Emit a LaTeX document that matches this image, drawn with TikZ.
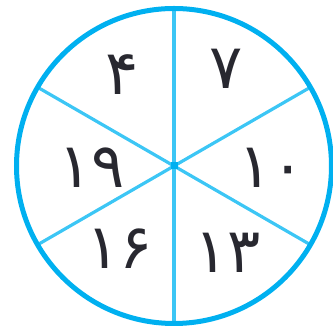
\documentclass[tikz,border=0pt]{standalone}
\usepackage{fontspec}
\usetikzlibrary{calc}
\newfontfamily\arabicfont[Script=Arabic]{DejaVu Sans}
\definecolor{rim}{RGB}{0,176,240}
\definecolor{spoke}{RGB}{60,198,245}
\definecolor{ink}{RGB}{40,40,48}
\begin{document}
\begin{tikzpicture}[x=1pt,y=1pt,
  num/.style={text=ink,font=\arabicfont\fontsize{62}{62}\selectfont,inner sep=0pt}]
\useasboundingbox (0,0) rectangle (333,331);
\coordinate (c) at (174,165);
\foreach \a/\n in {90/t,270/b,30/ur,150/ul,210/ll,330/lr}
  \coordinate (\n) at ($(c)+(\a:158)$);
\draw[spoke,line width=4pt] (t) -- (b);
\draw[spoke,line width=3.2pt] (ul) -- (lr);
\draw[spoke,line width=3.2pt] (ur) -- (ll);
\fill[rim] (c) ++(-3.5,-3.5) rectangle ++(7,7);
\draw[rim,line width=5pt] (c) circle (157.5);
\node[num] (n4) at (122,256) {۴};
\node[num] (n7) at (226,262) {۷};
\node[num] (n10) at (272,163) {۱۰};
\node[num] (n13) at (228,78) {۱۳};
\node[num] (n16) at (120,82) {۱۶};
\node[num] (n19) at (92,163) {۱۹};
\end{tikzpicture}
\end{document}
